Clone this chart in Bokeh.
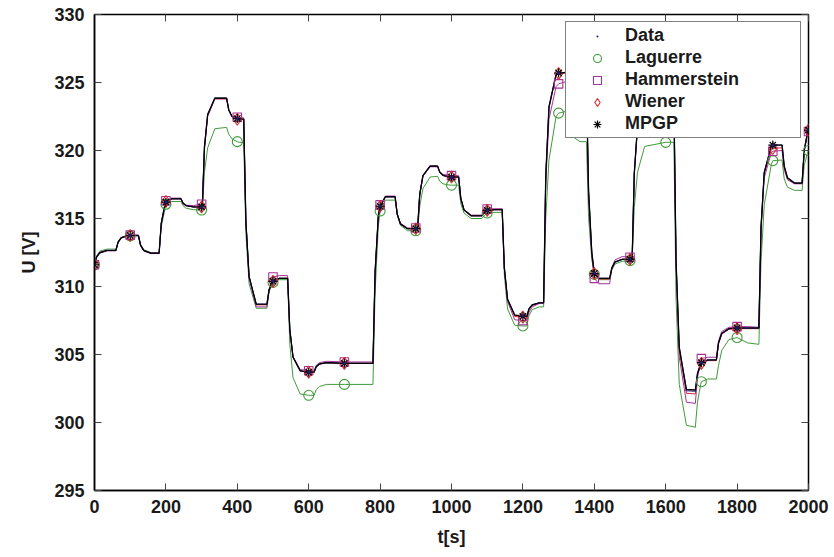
from bokeh.plotting import figure
from bokeh.models import (Range1d, LinearAxis, Legend, LegendItem, FixedTicker,
                          ColumnDataSource, CustomLabelingPolicy)
from bokeh.embed import file_html
from bokeh.resources import INLINE

# ---------------- data ----------------
t = [0, 6, 15, 35, 60, 66, 75, 95, 100, 123,
     129, 138, 158, 181, 187, 196, 200, 216, 242, 248,
     257, 277, 300, 302, 308, 317, 337, 370, 376, 385,
     400, 405, 418, 424, 433, 453, 483, 489, 498, 500,
     518, 541, 547, 556, 576, 600, 615, 621, 630, 650,
     700, 780, 786, 795, 800, 815, 842, 848, 857, 877,
     900, 905, 911, 920, 940, 961, 967, 976, 996, 1000,
     1020, 1026, 1035, 1055, 1085, 1091, 1100, 1120, 1142, 1148,
     1157, 1177, 1200, 1211, 1217, 1226, 1246, 1258, 1264, 1273,
     1293, 1300, 1325, 1331, 1340, 1360, 1378, 1384, 1393, 1400,
     1413, 1443, 1449, 1458, 1478, 1500, 1506, 1512, 1521, 1541,
     1600, 1623, 1629, 1638, 1658, 1683, 1689, 1698, 1700, 1718,
     1742, 1748, 1757, 1777, 1800, 1830, 1861, 1867, 1876, 1896,
     1900, 1926, 1932, 1941, 1961, 1982, 1988, 1997, 2000]

data = [311.6, 312.18, 312.49, 312.65, 312.65, 313.26, 313.59, 313.75, 313.75, 313.75,
        313.04, 312.65, 312.45, 312.45, 314.65, 315.85, 316.2, 316.45, 316.45, 316.12,
        315.94, 315.85, 315.85, 315.85, 320.25, 322.65, 323.85, 323.85, 323.0, 322.5,
        322.35, 322.3, 322.3, 314.8, 310.74, 308.7, 308.7, 309.75, 310.32, 310.38,
        310.6, 310.6, 306.86, 304.82, 303.8, 303.7, 303.7, 304.1, 304.3, 304.4,
        304.35, 304.35, 311.09, 315.2, 315.9, 316.6, 316.6, 315.31, 314.6, 314.25,
        314.25, 314.25, 316.78, 318.16, 318.85, 318.85, 318.41, 318.17, 318.05, 318.05,
        318.05, 316.48, 315.63, 315.2, 315.2, 315.45, 315.6, 315.65, 315.65, 311.39,
        309.06, 307.9, 307.85, 307.85, 308.35, 308.65, 308.8, 308.8, 318.12, 323.2,
        325.6, 325.7, 325.75, 325.2, 324.9, 324.8, 324.8, 316.99, 312.5, 311.0,
        310.6, 310.6, 311.35, 311.8, 312.0, 312.0, 312.0, 318.33, 321.78, 323.5,
        323.5, 323.5, 311.87, 305.52, 302.35, 302.3, 303.6, 304.3, 304.4, 304.6,
        304.6, 305.85, 306.55, 306.9, 306.95, 306.95, 306.95, 314.35, 318.38, 320.35,
        320.4, 320.4, 318.85, 318.0, 317.6, 317.6, 320.0, 321.3, 321.5]

laguerre = [311.6, 312.25, 312.6, 312.75, 312.75, 313.2, 313.55, 313.72, 313.72, 313.72,
            313.1, 312.7, 312.5, 312.5, 314.4, 315.5, 316.05, 316.25, 316.25, 315.95,
            315.75, 315.65, 315.62, 315.62, 318.4, 320.2, 321.6, 321.7, 321.2, 320.85,
            320.65, 320.6, 320.6, 313.9, 310.2, 308.4, 308.4, 309.6, 310.2, 310.3,
            310.5, 310.5, 305.8, 303.3, 302.1, 302.0, 302.0, 302.4, 302.65, 302.8,
            302.8, 302.8, 309.6, 314.4, 315.55, 316.35, 316.35, 315.25, 314.5, 314.1,
            314.1, 314.1, 315.9, 317.2, 318.05, 318.1, 317.75, 317.55, 317.45, 317.45,
            317.45, 316.1, 315.4, 315.0, 315.0, 315.2, 315.4, 315.45, 315.45, 310.86,
            308.35, 307.15, 307.1, 307.1, 307.85, 308.3, 308.5, 308.5, 314.98, 319.3,
            322.5, 322.75, 322.9, 321.8, 321.0, 320.65, 320.65, 315.07, 312.0, 310.9,
            310.5, 310.5, 311.2, 311.65, 311.85, 311.9, 311.9, 315.8, 318.4, 320.3,
            320.6, 320.6, 309.08, 302.8, 299.8, 299.65, 301.5, 302.8, 303.0, 303.2,
            303.2, 304.2, 305.3, 306.1, 306.25, 305.85, 305.75, 311.8, 316.0, 319.0,
            319.25, 319.3, 317.9, 317.3, 317.07, 317.07, 318.9, 319.8, 320.0]

hammerstein = [311.6, 312.15, 312.45, 312.62, 312.62, 313.25, 313.6, 313.78, 313.78, 313.78,
               313.0, 312.6, 312.42, 312.42, 314.6, 315.8, 316.3, 316.5, 316.5, 316.15,
               315.98, 315.95, 316.05, 316.05, 320.1, 322.5, 323.8, 323.8, 322.95, 322.5,
               322.45, 322.4, 322.4, 314.8, 310.6, 308.5, 308.5, 309.8, 310.5, 310.7,
               310.8, 310.8, 306.9, 304.85, 303.9, 303.8, 303.8, 304.2, 304.4, 304.5,
               304.45, 304.45, 311.0, 315.1, 316.0, 316.65, 316.65, 315.35, 314.65, 314.3,
               314.3, 314.3, 316.7, 318.1, 318.8, 318.8, 318.45, 318.25, 318.15, 318.15,
               318.15, 316.5, 315.65, 315.25, 315.25, 315.5, 315.7, 315.72, 315.72, 311.3,
               308.9, 307.55, 307.5, 307.5, 308.1, 308.5, 308.75, 308.75, 317.5, 322.3,
               324.7, 324.9, 325.1, 324.7, 324.5, 324.4, 324.4, 316.6, 312.2, 310.6,
               310.2, 310.2, 311.4, 311.95, 312.2, 312.15, 312.15, 318.2, 321.7, 323.4,
               323.45, 323.45, 311.5, 304.8, 301.5, 301.4, 303.3, 304.5, 304.7, 304.8,
               304.8, 306.0, 306.7, 307.0, 307.05, 307.05, 307.0, 314.1, 318.0, 319.85,
               319.95, 320.0, 318.6, 317.85, 317.55, 317.55, 319.9, 321.2, 321.4]

wiener = [311.6, 312.18, 312.5, 312.65, 312.65, 313.26, 313.59, 313.75, 313.75, 313.75,
          313.04, 312.65, 312.45, 312.45, 314.65, 315.85, 316.25, 316.45, 316.45, 316.12,
          315.94, 315.85, 315.85, 315.85, 320.25, 322.6, 323.8, 323.8, 323.0, 322.5,
          322.3, 322.3, 322.3, 314.8, 310.7, 308.65, 308.65, 309.75, 310.32, 310.38,
          310.6, 310.6, 306.86, 304.8, 303.8, 303.7, 303.7, 304.1, 304.3, 304.4,
          304.35, 304.35, 311.05, 315.15, 315.9, 316.6, 316.6, 315.31, 314.6, 314.25,
          314.25, 314.25, 316.75, 318.15, 318.85, 318.85, 318.4, 318.17, 318.05, 318.05,
          318.05, 316.48, 315.63, 315.2, 315.2, 315.45, 315.6, 315.65, 315.65, 311.35,
          309.0, 307.8, 307.75, 307.75, 308.3, 308.6, 308.8, 308.8, 318.0, 323.1,
          325.55, 325.65, 325.7, 325.2, 324.9, 324.8, 324.8, 316.95, 312.45, 310.95,
          310.55, 310.55, 311.35, 311.8, 312.0, 312.0, 312.0, 318.3, 321.75, 323.5,
          323.5, 323.5, 311.8, 305.3, 302.15, 302.1, 303.5, 304.25, 304.35, 304.55,
          304.55, 305.8, 306.5, 306.85, 306.9, 306.9, 306.9, 314.3, 318.3, 320.1,
          320.15, 320.2, 318.75, 317.95, 317.6, 317.6, 320.0, 321.3, 321.5]

mpgp = [311.6, 312.18, 312.49, 312.65, 312.65, 313.26, 313.59, 313.75, 313.75, 313.75,
        313.04, 312.65, 312.45, 312.45, 314.65, 315.85, 316.2, 316.45, 316.45, 316.12,
        315.94, 315.85, 315.85, 315.85, 320.25, 322.65, 323.85, 323.85, 323.0, 322.5,
        322.35, 322.3, 322.3, 314.8, 310.74, 308.7, 308.7, 309.75, 310.32, 310.38,
        310.6, 310.6, 306.86, 304.82, 303.8, 303.7, 303.7, 304.1, 304.3, 304.4,
        304.35, 304.35, 311.09, 315.2, 315.9, 316.6, 316.6, 315.31, 314.6, 314.25,
        314.25, 314.25, 316.78, 318.16, 318.85, 318.85, 318.41, 318.17, 318.05, 318.05,
        318.05, 316.48, 315.63, 315.2, 315.2, 315.45, 315.6, 315.65, 315.65, 311.39,
        309.06, 307.9, 307.8, 307.8, 308.35, 308.65, 308.8, 308.8, 318.12, 323.2,
        325.6, 325.7, 325.75, 325.2, 324.9, 324.8, 324.8, 316.99, 312.5, 310.95,
        310.6, 310.6, 311.35, 311.8, 312.0, 312.0, 312.0, 318.33, 321.78, 323.5,
        323.5, 323.5, 311.87, 305.52, 302.45, 302.4, 303.6, 304.3, 304.4, 304.6,
        304.6, 305.85, 306.55, 306.9, 306.95, 306.95, 306.95, 314.35, 318.38, 320.35,
        320.4, 320.4, 318.85, 318.0, 317.6, 317.6, 320.0, 321.3, 321.5]

x_ticks = [0, 200, 400, 600, 800, 1000, 1200, 1400, 1600, 1800, 2000]
y_ticks = [295, 300, 305, 310, 315, 320, 325, 330]
series_names = ["Data", "Laguerre", "Hammerstein", "Wiener", "MPGP"]

# ---------------- figure ----------------
FONT = "Liberation Sans"
p = figure(width=830, height=553, output_backend="svg", toolbar_location=None,
           x_range=Range1d(0, 2000), y_range=Range1d(295, 330),
           min_border_left=94, min_border_right=22, min_border_top=14,
           min_border_bottom=63)
p.background_fill_color = "white"
p.border_fill_color = "white"
p.outline_line_color = "black"
p.outline_line_width = 1.5
p.xgrid.visible = False
p.ygrid.visible = False

src = ColumnDataSource(dict(t=t, data=data, lag=laguerre, ham=hammerstein,
                            wie=wiener, mpgp=mpgp))
idx = [i for i, tt in enumerate(t) if tt % 100 == 0]
msrc = ColumnDataSource(dict(t=[t[i] for i in idx],
                             data=[data[i] for i in idx],
                             lag=[laguerre[i] for i in idx],
                             ham=[hammerstein[i] for i in idx],
                             wie=[wiener[i] for i in idx],
                             mpgp=[mpgp[i] for i in idx]))

C_DATA = "#1c1c6e"
C_LAG = "#3f9b3a"
C_HAM = "#a6309a"
C_WIE = "#d82a2a"
C_MPGP = "#000000"

p.line("t", "lag", source=src, line_color=C_LAG, line_width=1.0)
p.line("t", "ham", source=src, line_color=C_HAM, line_width=1.0)
p.line("t", "wie", source=src, line_color=C_WIE, line_width=1.0)
p.line("t", "data", source=src, line_color=C_DATA, line_width=1.3)
p.line("t", "mpgp", source=src, line_color=C_MPGP, line_width=1.1)

r_lag = p.scatter("t", "lag", source=msrc, marker="circle", size=10,
                  fill_color=None, line_color=C_LAG, line_width=1.1)
r_ham = p.scatter("t", "ham", source=msrc, marker="square", size=8.5,
                  fill_color=None, line_color=C_HAM, line_width=1.1)
r_wie = p.scatter("t", "wie", source=msrc, marker="diamond", size=12,
                  fill_color=None, line_color=C_WIE, line_width=1.1)
r_mpgp = p.scatter("t", "mpgp", source=msrc, marker="asterisk", size=9,
                   line_color=C_MPGP, line_width=1.2)
r_data = p.scatter("t", "data", source=msrc, marker="dot", size=14,
                   fill_color=C_DATA, line_color=C_DATA)

# ---------------- axes ----------------
for ax in (p.xaxis[0], p.yaxis[0]):
    ax.major_label_text_font = FONT
    ax.major_label_text_font_style = "bold"
    ax.major_label_text_font_size = "18px"
    ax.major_label_text_color = "#1a1a1a"
    ax.axis_label_text_font = FONT
    ax.axis_label_text_font_style = "bold"
    ax.axis_label_text_font_size = "18px"
    ax.axis_label_text_color = "#1a1a1a"
    ax.major_tick_in = 7
    ax.major_tick_out = 0
    ax.minor_tick_line_color = None
    ax.axis_line_color = "black"
    ax.axis_line_width = 1.5
    ax.major_tick_line_color = "#444444"
    ax.major_tick_line_width = 1

p.xaxis[0].ticker = FixedTicker(ticks=x_ticks)
p.yaxis[0].ticker = FixedTicker(ticks=y_ticks)
p.xaxis[0].axis_label = "t[s]"
p.yaxis[0].axis_label = "U [V]"
p.xaxis[0].major_label_standoff = 9
p.xaxis[0].axis_label_standoff = 11
p.yaxis[0].major_label_standoff = 10
p.yaxis[0].axis_label_standoff = 12

no_labels = """
const ids = [];
for (const i of indices) ids.push(i);
for (const i of ids) indices.unset(i);
return indices;
"""
top_ax = LinearAxis(ticker=FixedTicker(ticks=x_ticks),
                    major_label_policy=CustomLabelingPolicy(code=no_labels),
                    major_label_standoff=0, major_tick_in=7, major_tick_out=0,
                    minor_tick_line_color=None, axis_line_color=None,
                    major_tick_line_color="#444444")
right_ax = LinearAxis(ticker=FixedTicker(ticks=y_ticks),
                      major_label_policy=CustomLabelingPolicy(code=no_labels),
                      major_label_standoff=0, major_tick_in=7, major_tick_out=0,
                      minor_tick_line_color=None, axis_line_color=None,
                      major_tick_line_color="#444444")
p.add_layout(top_ax, "above")
p.add_layout(right_ax, "right")

# ---------------- legend ----------------
legend = Legend(items=[LegendItem(label=series_names[0], renderers=[r_data]),
                       LegendItem(label=series_names[1], renderers=[r_lag]),
                       LegendItem(label=series_names[2], renderers=[r_ham]),
                       LegendItem(label=series_names[3], renderers=[r_wie]),
                       LegendItem(label=series_names[4], renderers=[r_mpgp])],
                location="top_right")
legend.label_text_font = FONT
legend.label_text_font_style = "bold"
legend.label_text_font_size = "18px"
legend.label_text_color = "#1a1a1a"
legend.border_line_color = "black"
legend.border_line_width = 1.2
legend.background_fill_color = "white"
legend.background_fill_alpha = 1.0
legend.padding = 3
legend.spacing = 1
legend.margin = 7
legend.glyph_width = 56
legend.glyph_height = 20
legend.label_height = 20
legend.label_width = 172
legend.label_standoff = 0
p.add_layout(legend)

open("out.html", "w").write(file_html(p, INLINE))
